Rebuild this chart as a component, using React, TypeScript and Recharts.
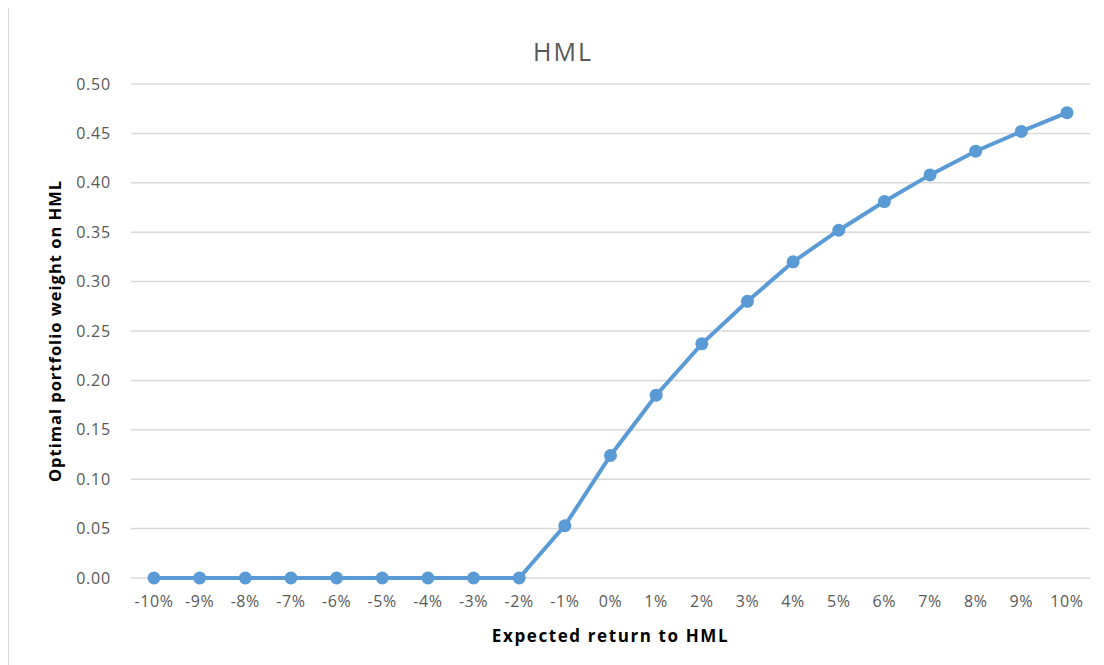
import React from 'react';
import { LineChart, Line, XAxis, YAxis, CartesianGrid, Label } from 'recharts';

const categories = [
  '-10%', '-9%', '-8%', '-7%', '-6%', '-5%', '-4%', '-3%', '-2%', '-1%',
  '0%', '1%', '2%', '3%', '4%', '5%', '6%', '7%', '8%', '9%', '10%',
];
const weights = [
  0, 0, 0, 0, 0, 0, 0, 0, 0, 0.053,
  0.124, 0.185, 0.237, 0.28, 0.32, 0.352, 0.381, 0.408, 0.432, 0.452, 0.471,
];
const yTicks = [0, 0.05, 0.1, 0.15, 0.2, 0.25, 0.3, 0.35, 0.4, 0.45, 0.5];

const data = categories.map((c, i) => ({ ret: c, weight: weights[i] }));

const FONT = '"Open Sans", "Liberation Sans", sans-serif';
const GREY = '#595959';
const BLUE = '#5B9BD5';

export default function App() {
  return (
    <div
      style={{
        width: 1090,
        height: 660,
        border: '1px solid #d9d9d9',
        boxSizing: 'border-box',
        marginTop: -1,
        background: '#fff',
        fontFamily: FONT,
      }}
    >
      <LineChart
        width={1088}
        height={658}
        data={data}
        margin={{ top: 76, right: 7, bottom: 58, left: 50 }}
      >
        <text x={554} y={53} textAnchor="middle" fontSize={25} fill={GREY} fontFamily={FONT} letterSpacing={2}>
          HML
        </text>
        <CartesianGrid vertical={false} stroke="#d9d9d9" strokeWidth={1.5} />
        <XAxis
          dataKey="ret"
          axisLine={false}
          tickLine={false}
          padding={{ left: 23, right: 23 }}
          tick={{ fontSize: 16, fill: GREY, fontFamily: FONT, letterSpacing: 0.6 }}
          tickMargin={12}
          interval={0}
          height={30}
        >
          <Label
            value="Expected return to HML"
            position="bottom"
            offset={22}
            style={{ fontSize: 17, fontWeight: 700, fill: '#000', fontFamily: FONT, letterSpacing: 1.6 }}
          />
        </XAxis>
        <YAxis
          domain={[0, 0.5]}
          ticks={yTicks}
          axisLine={false}
          tickLine={false}
          tickFormatter={(v: number) => v.toFixed(2)}
          tick={{ fontSize: 16, fill: GREY, fontFamily: FONT, letterSpacing: 0.8 }}
          tickMargin={14}
          width={72}
        >
          <Label
            value="Optimal portfolio weight on HML"
            angle={-90}
            position="left"
            offset={4}
            style={{ textAnchor: 'middle', fontSize: 16.5, fontWeight: 700, fill: '#000', fontFamily: FONT, letterSpacing: 1 }}
          />
        </YAxis>
        <Line
          type="linear"
          dataKey="weight"
          stroke={BLUE}
          strokeWidth={4}
          dot={{ r: 6.5, fill: BLUE, stroke: BLUE, strokeWidth: 0 }}
          activeDot={false}
          isAnimationActive={false}
        />
      </LineChart>
    </div>
  );
}
